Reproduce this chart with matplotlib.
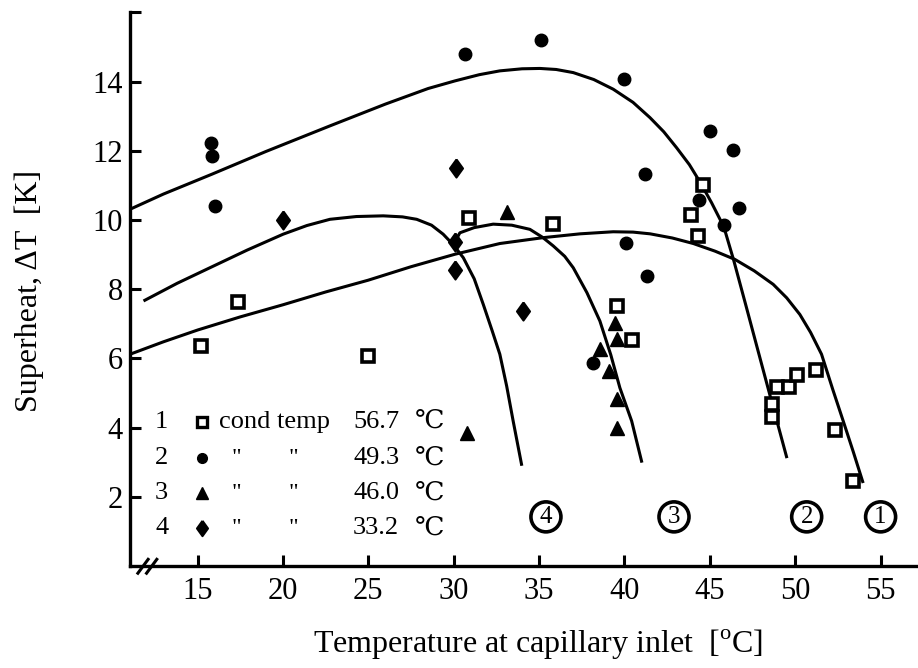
import matplotlib
import matplotlib.pyplot as plt

matplotlib.use("Agg")

# measured points, one list pair per condensing temperature
sq_x = [15.18, 17.38, 24.99, 30.9, 35.83, 39.56, 40.42, 43.87, 44.28,
        44.61, 48.62, 48.62, 48.91, 49.65, 50.08, 51.21, 52.33, 53.36]
sq_y = [6.36, 7.64, 6.07, 10.05, 9.88, 7.51, 6.52, 10.14, 9.54,
        11.01, 4.67, 4.31, 5.18, 5.18, 5.51, 5.66, 3.93, 2.46]

dot_x = [15.81, 15.86, 16.01, 30.65, 35.1, 39.98, 45.0, 46.33, 41.23,
         44.34, 46.72, 45.84, 40.1, 41.3, 38.15]
dot_y = [12.23, 11.85, 10.40, 14.79, 15.19, 14.08, 12.57, 12.01, 11.32,
         10.57, 10.36, 9.86, 9.33, 8.38, 5.88]

tri_x = [33.13, 39.44, 39.58, 38.56, 39.1, 39.54, 39.58, 30.75]
tri_y = [10.24, 7.03, 6.55, 6.26, 5.64, 4.82, 4.0, 3.85]

dia_x = [20.01, 30.11, 30.07, 30.07, 34.07]
dia_y = [10.0, 11.51, 9.37, 8.55, 7.37]

# fitted curves
c1_x = [11.04, 13.0, 15.0, 17.5, 20.0, 22.5, 24.99, 27.5, 30.07, 32.7,
        35.24, 37.4, 39.34, 40.5, 41.5, 42.8, 44.03, 45.3, 46.47, 47.6,
        48.71, 49.5, 50.27, 50.9, 51.54, 52.2, 52.81, 53.4, 53.95]
c1_y = [6.12, 6.48, 6.82, 7.2, 7.55, 7.92, 8.26, 8.65, 9.01, 9.32,
        9.49, 9.60, 9.66, 9.65, 9.60, 9.48, 9.32, 9.1, 8.86, 8.53,
        8.14, 7.75, 7.27, 6.75, 6.12, 5.1, 4.19, 3.3, 2.44]

c2_x = [11.04, 13.0, 15.82, 19.0, 22.75, 26.0, 28.5, 30.07, 31.5, 32.7,
        34.0, 35.05, 36.0, 37.0, 38.2, 39.34, 40.5, 41.49, 42.3, 43.05,
        43.8, 44.42, 45.1, 45.82, 46.4, 47.1, 47.74, 48.56, 49.49]
c2_y = [10.31, 10.75, 11.32, 11.98, 12.72, 13.35, 13.8, 14.02, 14.2, 14.31,
        14.37, 14.38, 14.35, 14.26, 14.06, 13.78, 13.4, 12.96, 12.55, 12.09,
        11.6, 11.1, 10.5, 9.80, 8.83, 7.55, 6.37, 4.86, 3.16]

c3_x = [30.07, 30.36, 31.2, 32.31, 33.4, 34.46, 35.2, 35.83, 36.5, 37.0,
        37.8, 38.56, 39.2, 39.73, 40.42, 41.0]
c3_y = [9.37, 9.63, 9.78, 9.88, 9.85, 9.73, 9.5, 9.25, 8.95, 8.62,
        7.9, 7.08, 6.1, 5.15, 4.19, 3.03]

c4_x = [11.91, 13.8, 15.72, 17.9, 20.01, 21.4, 22.75, 24.3, 25.87, 27.0,
        27.83, 28.7, 29.38, 30.0, 30.56, 31.2, 31.73, 32.25, 32.7, 33.1,
        33.48, 33.97]
c4_y = [7.68, 8.17, 8.62, 9.13, 9.59, 9.84, 10.02, 10.1, 10.12, 10.09,
        10.02, 9.85, 9.59, 9.27, 8.91, 8.3, 7.56, 6.8, 6.12, 5.2,
        4.19, 2.94]

curve_tags = ["4", "3", "2", "1"]
curve_tag_x = [35.4, 42.9, 50.67, 55.0]

legend_ids = ["1", "2", "3", "4"]
legend_temps = ["56.7", "49.3", "46.0", "33.2"]

SERIF = ["Liberation Serif", "DejaVu Serif", "Noto Sans CJK JP"]
DIAMOND = [(0, 1), (0.72, 0), (0, -1), (-0.72, 0), (0, 1)]


def main():
    """
    Description: superheat vs capillary inlet temperature.
    """
    plt.rcParams["font.family"] = SERIF
    plt.rcParams["mathtext.fontset"] = "custom"
    plt.rcParams["mathtext.rm"] = "Liberation Serif"

    fig = plt.figure(figsize=(9.18, 6.68), dpi=100)
    ax = fig.add_axes([130 / 918, 1 - 566 / 668, 788 / 918, 554.3 / 668])

    for cx, cy in [(c1_x, c1_y), (c2_x, c2_y), (c3_x, c3_y), (c4_x, c4_y)]:
        ax.plot(cx, cy, color="black", lw=2.2, solid_joinstyle="round")

    ax.plot(sq_x, sq_y, ls="none", marker="s", ms=8, mfc="white",
            mec="black", mew=2.6)
    ax.plot(dot_x, dot_y, ls="none", marker="o", ms=9, color="black")
    ax.plot(tri_x, tri_y, ls="none", marker="^", ms=10, color="black")
    ax.plot(dia_x, dia_y, ls="none", marker=DIAMOND, ms=13, mfc="black",
            mec="black", mew=1.5)

    for tag, tx in zip(curve_tags, curve_tag_x):
        ax.text(tx, 1.42, tag, fontsize=18, ha="center", va="center",
                bbox=dict(boxstyle="circle,pad=0.16", fc="none",
                          ec="black", lw=2.6))

    # hand-made legend in the lower left corner
    rows_y = [4.17, 3.11, 2.10, 1.09]
    keys = [dict(marker="s", ms=7, mfc="white", mec="black", mew=2.4),
            dict(marker="o", ms=7, color="black"),
            dict(marker="^", ms=9, color="black"),
            dict(marker=DIAMOND, ms=11, mfc="black", mec="black", mew=1.5)]
    for i in range(4):
        ry = rows_y[i]
        ax.text(12.89, ry, legend_ids[i], fontsize=19, ha="center",
                va="center")
        ax.plot([15.23], [ry], ls="none", **keys[i])
        if i == 0:
            ax.text(16.27, ry, "cond temp", fontsize=19, ha="left",
                    va="center")
        else:
            ax.text(17.28, ry, "\"", fontsize=17, ha="center", va="center")
            ax.text(20.6, ry, "\"", fontsize=17, ha="center", va="center")
        ax.text(24.11, ry, legend_temps[i], fontsize=19, ha="left",
                va="center")
        ax.text(27.73, ry, "\u2103", fontsize=19, ha="left", va="center")

    ax.set_xlim(11.04, 57.19)
    ax.set_ylim(0, 16.02)
    ax.set_xticks(range(15, 56, 5))
    ax.set_yticks(range(2, 17, 2))
    ax.set_yticklabels([str(v) for v in range(2, 15, 2)] + [""])
    ax.tick_params(direction="in", length=8, width=2.2, labelsize=22)
    ax.tick_params(axis="x", pad=8)
    ax.tick_params(axis="y", pad=5)
    ax.spines["top"].set_visible(False)
    ax.spines["right"].set_visible(False)
    for side in ["left", "bottom"]:
        ax.spines[side].set_linewidth(2.4)

    # axis break marks
    for dx in [0.0, 0.011]:
        ax.plot([0.010 + dx, 0.023 + dx], [-0.013, 0.012],
                transform=ax.transAxes, color="black", lw=2.2,
                clip_on=False)

    fig.text(538 / 918, 1 - 645 / 668,
             "Temperature at capillary inlet  [$^{\\mathrm{o}}$C]",
             fontsize=23, ha="center", va="center")
    fig.text(29 / 918, 1 - 291 / 668, "Superheat, \u0394T  [K]",
             fontsize=23, ha="center", va="center", rotation=90)

    fig.savefig("out.png", dpi=100)
    return 0


if __name__ == "__main__":
    main()
